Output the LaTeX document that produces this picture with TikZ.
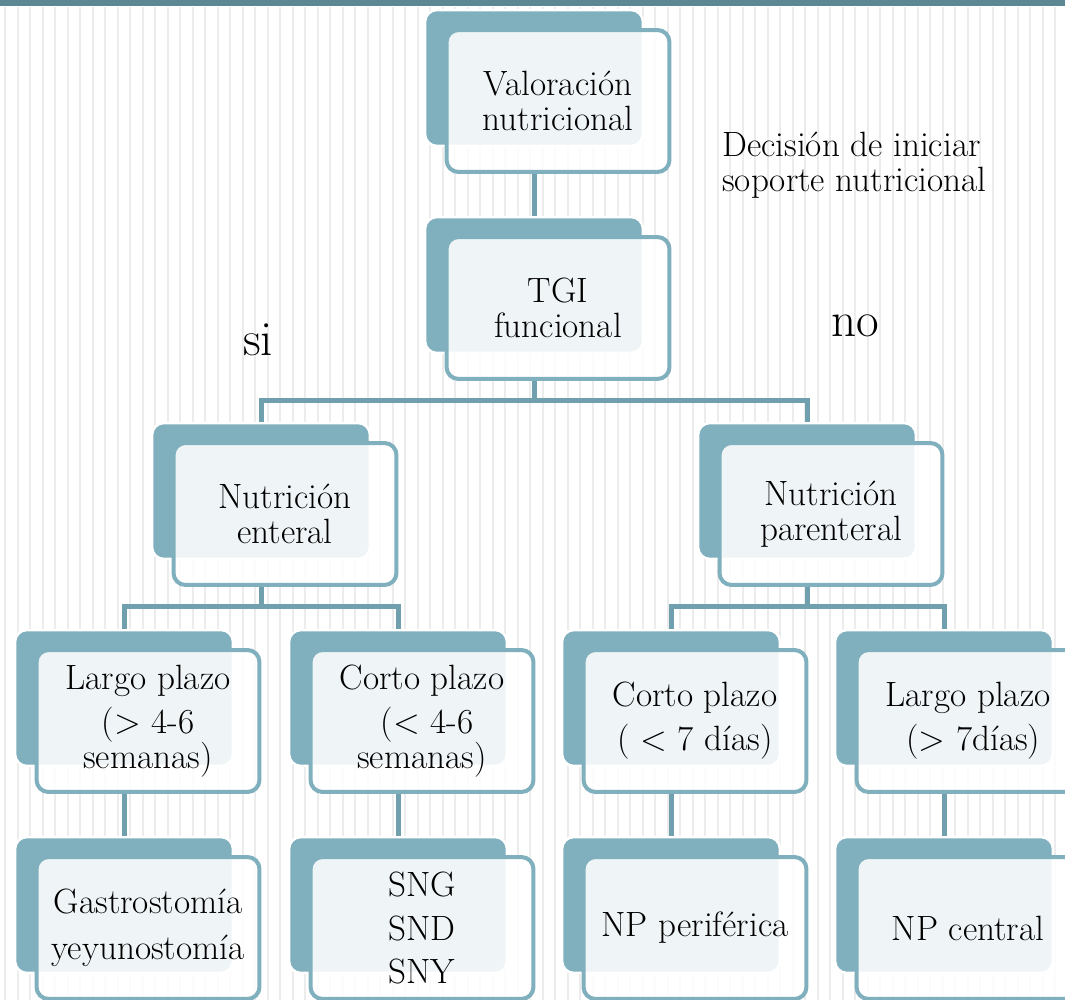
\documentclass[tikz,border=0pt]{standalone}
\usepackage{fontspec}
\usepackage{tikz}
\usetikzlibrary{positioning}

\definecolor{boxteal}{RGB}{128,176,190}
\definecolor{lineteal}{RGB}{112,160,174}
\definecolor{barteal}{RGB}{91,136,147}
\definecolor{stripegray}{RGB}{236,236,236}

\begin{document}
\begin{tikzpicture}[
    x=0.02cm, y=-0.02cm,
    every node/.style={font=\fontsize{20}{20}\selectfont, align=center},
    backbox/.style={rectangle, rounded corners=0.24cm, fill=boxteal, draw=white, line width=0.05cm, minimum width=4.36cm, minimum height=2.72cm},
    frontbox/.style={rectangle, rounded corners=0.24cm, fill=white, fill opacity=0.88, text opacity=1, draw=boxteal, line width=0.08cm, minimum width=4.46cm, minimum height=2.84cm},
    link/.style={draw=lineteal, line width=0.1cm},
    bigword/.style={font=\fontsize{28}{30}\selectfont}
]
    \useasboundingbox (0,0) rectangle (1065,1000);

    % Background
    \fill[white] (0,0) rectangle (1065,1000);
    \foreach \i in {0,...,42} {
        \fill[stripegray] ({5+25*\i-1.4},7) rectangle ++(2.8,993);
        \fill[stripegray] ({18+25*\i-0.9},7) rectangle ++(1.8,993);
    }
    \fill[barteal] (0,0) rectangle (1065,6);

    % Nodes
    \node[backbox] (valB) at (534,78) {};
    \node[frontbox] (val) at ([shift={(24,23)}]valB) {Valoración\\nutricional};

    \node[backbox] (tgiB) at (534,285) {};
    \node[frontbox] (tgi) at ([shift={(24,23)}]tgiB) {TGI\\funcional};

    \node[backbox] (entB) at (261,491) {};
    \node[frontbox] (ent) at ([shift={(24,23)}]entB) {Nutrición\\enteral};

    \node[backbox] (parB) at (807,491) {};
    \node[frontbox] (par) at ([shift={(24,23)}]parB) {Nutrición\\parenteral};

    \node[backbox] (elpB) at (124,698) {};
    \node[frontbox] (elp) at ([shift={(24,23)}]elpB) {Largo plazo\\[5pt](> 4-6\\semanas)};

    \node[backbox] (ecpB) at (398,698) {};
    \node[frontbox] (ecp) at ([shift={(24,23)}]ecpB) {Corto plazo\\[5pt]\ (< 4-6\\semanas)};

    \node[backbox] (pcpB) at (671,698) {};
    \node[frontbox] (pcp) at ([shift={(24,23)}]pcpB) {Corto plazo\\[5pt]( < 7 días)};

    \node[backbox] (plpB) at (944,698) {};
    \node[frontbox] (plp) at ([shift={(24,23)}]plpB) {Largo plazo\\[5pt]\ (> 7días)};

    \node[backbox] (gasB) at (124,905) {};
    \node[frontbox] (gas) at ([shift={(24,23)}]gasB) {Gastrostomía\\[6pt]yeyunostomía};

    \node[backbox] (sngB) at (398,905) {};
    \node[frontbox] (sng) at ([shift={(24,23)}]sngB) {SNG\\[5pt]SND\\[5pt]SNY};

    \node[backbox] (nppB) at (671,905) {};
    \node[frontbox] (npp) at ([shift={(24,23)}]nppB) {NP periférica};

    \node[backbox] (npcB) at (944,905) {};
    \node[frontbox] (npc) at ([shift={(24,23)}]npcB) {NP central};

    % Connections
    \draw[link] (valB |- val.south) -- (tgiB.north);
    \draw[link] (tgiB |- tgi.south) -- ++(0,20) coordinate (tgiJ);
    \draw[link] (entB.north) |- (tgiJ) -| (parB.north);
    \draw[link] (entB |- ent.south) -- ++(0,20) coordinate (entJ);
    \draw[link] (elpB.north) |- (entJ) -| (ecpB.north);
    \draw[link] (parB |- par.south) -- ++(0,20) coordinate (parJ);
    \draw[link] (pcpB.north) |- (parJ) -| (plpB.north);
    \draw[link] (elpB |- elp.south) -- (gasB.north);
    \draw[link] (ecpB |- ecp.south) -- (sngB.north);
    \draw[link] (pcpB |- pcp.south) -- (nppB.north);
    \draw[link] (plpB |- plp.south) -- (npcB.north);

    % Labels
    \node[anchor=west, align=left, inner sep=0pt] (dec) at (722,165) {Decisión de iniciar\\soporte nutricional};
    \node[bigword] (si) at (258,340) {si};
    \node[bigword] (no) at (855,326) {no};
\end{tikzpicture}
\end{document}
